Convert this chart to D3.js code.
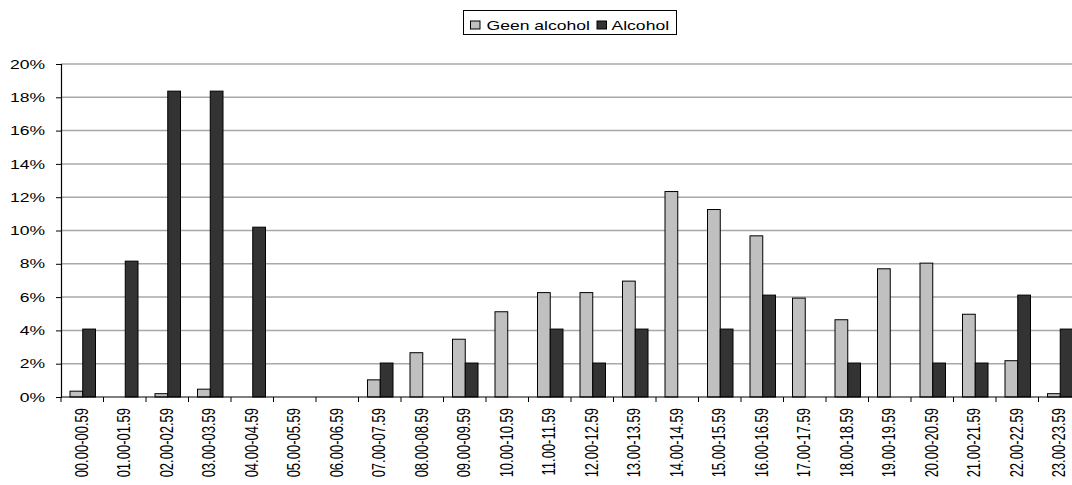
<!DOCTYPE html>
<html>
<head>
<meta charset="utf-8">
<script src="https://cdn.jsdelivr.net/npm/d3@7"></script>
<style>
  html, body { margin: 0; padding: 0; background: #fff; }
  svg { display: block; }
  text { font-family: "Liberation Sans", Arial, sans-serif; }
</style>
</head>
<body>
<svg id="chart" width="1072" height="485"></svg>
<script>
const categories = ["00.00-00.59","01.00-01.59","02.00-02.59","03.00-03.59","04.00-04.59","05.00-05.59",
  "06.00-06.59","07.00-07.59","08.00-08.59","09.00-09.59","10.00-10.59","11.00-11.59",
  "12.00-12.59","13.00-13.59","14.00-14.59","15.00-15.59","16.00-16.59","17.00-17.59",
  "18.00-18.59","19.00-19.59","20.00-20.59","21.00-21.59","22.00-22.59","23.00-23.59"];
const seriesNames = ["Geen alcohol", "Alcohol"];
const geenAlcohol = [0.35,0,0.2,0.47,0,0,0,1.03,2.66,3.47,5.12,6.27,6.27,6.96,12.34,11.26,9.68,5.94,4.64,7.7,8.04,4.97,2.18,0.2];
const alcohol = [4.08,8.16,18.37,18.37,10.2,0,0,2.04,0,2.04,0,4.08,2.04,4.08,0,4.08,6.12,0,2.04,0,2.04,2.04,6.12,4.08];
const yTicks = [0,2,4,6,8,10,12,14,16,18,20];

const colors = ["#c0c0c0", "#333333"];
const SX = 1.35; // horizontal stretch of the reference text
const FS = 13;

const svg = d3.select("#chart");
const pLeft = 61, pRight = 1081, pTop = 64, pBottom = 397;

const x0 = d3.scaleBand().domain(categories).range([pLeft, pRight]).paddingInner(0.4).paddingOuter(0.2);
const x1 = d3.scaleBand().domain(seriesNames).range([0, x0.bandwidth()]);
const y = d3.scaleLinear().domain([0, 20]).range([pBottom, pTop]);

// gridlines
svg.append("g").selectAll("line").data(yTicks.filter(d => d > 0)).join("line")
  .attr("x1", pLeft).attr("x2", 1072)
  .attr("y1", d => y(d)).attr("y2", d => y(d))
  .attr("stroke", "#a8a8a8").attr("stroke-width", 1.5);

// bars
const series = [geenAlcohol, alcohol];
const g = svg.append("g");
series.forEach((vals, si) => {
  g.selectAll(null).data(categories.map((c, i) => ({c, v: vals[i]})).filter(d => d.v > 0)).join("rect")
    .attr("x", d => x0(d.c) + x1(seriesNames[si]) + 0.5)
    .attr("y", d => y(d.v))
    .attr("width", x1.bandwidth())
    .attr("height", d => y(0) - y(d.v))
    .attr("fill", colors[si])
    .attr("stroke", "#000").attr("stroke-width", 1);
});

// y axis
const yAxis = svg.append("g").attr("transform", `translate(${pLeft},0)`)
  .call(d3.axisLeft(y).tickValues(yTicks).tickSize(5).tickFormat(""));
yAxis.select(".domain").attr("stroke", "#000").attr("stroke-width", 1.2);
yAxis.selectAll(".tick line").attr("stroke", "#000");
svg.append("g").selectAll("text").data(yTicks).join("text")
  .attr("transform", d => `translate(45,${y(d) + 4.6}) scale(${SX},1)`)
  .attr("text-anchor", "end").attr("font-size", FS).attr("fill", "#000")
  .text(d => d + "%");

// x axis
const step = x0.step();
svg.append("line").attr("x1", pLeft).attr("x2", 1072).attr("y1", pBottom).attr("y2", pBottom)
  .attr("stroke", "#000").attr("stroke-width", 1.2);
const bounds = categories.map(c => x0(c) - (step - x0.bandwidth()) / 2);
bounds.push(bounds[bounds.length - 1] + step);
svg.append("g").selectAll("line").data(bounds).join("line")
  .attr("x1", d => d).attr("x2", d => d).attr("y1", pBottom).attr("y2", pBottom + 5)
  .attr("stroke", "#000");
svg.append("g").selectAll("text").data(categories).join("text")
  .attr("transform", d => `translate(${x0(d) + x0.bandwidth() / 2 + 5.5},408) scale(${SX},1) rotate(-90)`)
  .attr("text-anchor", "end").attr("font-size", FS).attr("fill", "#000")
  .text(d => d);

// legend
const lg = svg.append("g");
lg.append("rect").attr("x", 463.5).attr("y", 10.5).attr("width", 213).attr("height", 24)
  .attr("fill", "#fff").attr("stroke", "#000").attr("stroke-width", 1);
const legendItems = [{name: seriesNames[0], sx: 470.5, tx: 486.5}, {name: seriesNames[1], sx: 597, tx: 611.5}];
legendItems.forEach((it, i) => {
  lg.append("rect").attr("x", it.sx).attr("y", 21).attr("width", 9.5).attr("height", 8)
    .attr("fill", colors[i]).attr("stroke", "#000").attr("stroke-width", 1);
  lg.append("text").attr("transform", `translate(${it.tx},29.5) scale(${SX},1)`)
    .attr("font-size", FS).attr("fill", "#000").text(it.name);
});
</script>
</body>
</html>
